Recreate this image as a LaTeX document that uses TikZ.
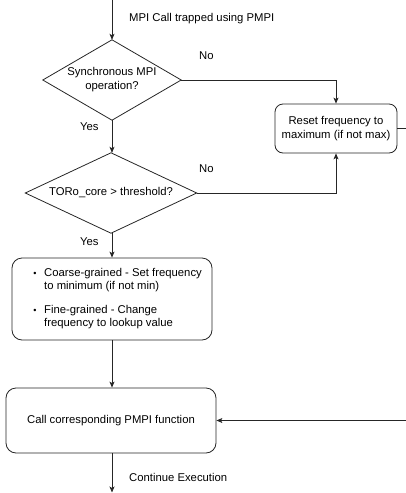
\documentclass[tikz,border=0pt]{standalone}
\usepackage{fontspec}
\setmainfont{Liberation Sans}
\usetikzlibrary{arrows.meta}
\begin{document}
\begin{tikzpicture}[x=1pt,y=-1pt, font=\fontsize{11.3}{14}\selectfont,
 line/.style={draw=black!85, line width=0.8pt},
 arr/.style={line, -{Stealth[length=6pt,width=5pt,inset=1.5pt]}},
 dec/.style={rectangle, inner sep=0pt, align=center},
 box/.style={rectangle, rounded corners=8pt, draw=black!85, line width=0.8pt, align=center, inner sep=0pt},
 lbl/.style={anchor=west, inner sep=0pt},
 blt/.style={lbl, align=left, font=\fontsize{11.3}{12.3}\selectfont}]
\useasboundingbox (0,0) rectangle (406,493);
\coordinate (start) at (112,0);
\node[dec, minimum width=138pt, minimum height=80pt] (d1) at (112,80) {Synchronous MPI\\operation?};
\draw[line] (d1.north) -- (d1.east) -- (d1.south) -- (d1.west) -- cycle;
\node[dec, minimum width=171pt, minimum height=80pt] (d2) at (111,193) {TORo\_core > threshold?};
\draw[line] (d2.north) -- (d2.east) -- (d2.south) -- (d2.west) -- cycle;
\node[box, minimum width=122pt, minimum height=49pt] (reset) at (336,128.5) {Reset frequency to\\maximum (if not max)};
\node[box, rounded corners=10pt, minimum width=200pt, minimum height=82pt] (act) at (112,299) {};
\node[box, rounded corners=10pt, minimum width=210pt, minimum height=65pt] (call) at (111,420.5) {Call corresponding PMPI function};
\coordinate (end) at (112,492.5);
\coordinate (r1) at (420,128.5);
\coordinate (r2) at (420,420.5);

\draw[arr] (start) -- (d1.north);
\draw[arr] (d1.south) -- (d1.south |- d2.north);
\draw[arr] (d1.south |- d2.south) -- (act.north);
\draw[arr] (act.south) -- (act.south |- call.north);
\draw[arr] (call.south -| end) -- (end);
\draw[arr] (d1.east) -| (reset.north);
\draw[arr] (d2.east) -| (reset.south);
\draw[arr] (reset.east) -- (r1) -- (r2) -- (call.east);

\node[lbl] at (129,19) {MPI Call trapped using PMPI};
\node[lbl] at (199,56) {No};
\node[lbl] at (80,127) {Yes};
\node[lbl] at (199,169) {No};
\node[lbl] at (80,242) {Yes};
\node[lbl] at (129,477) {Continue Execution};

\node[inner sep=0pt, scale=0.8] (b1) at (35,274) {\textbullet};
\node[blt] (t1) at (44,280) {Coarse-grained - Set frequency\\to minimum (if not min)};
\node[inner sep=0pt, scale=0.8] (b2) at (35,311) {\textbullet};
\node[blt] (t2) at (44,317) {Fine-grained - Change\\frequency to lookup value};
\end{tikzpicture}
\end{document}
